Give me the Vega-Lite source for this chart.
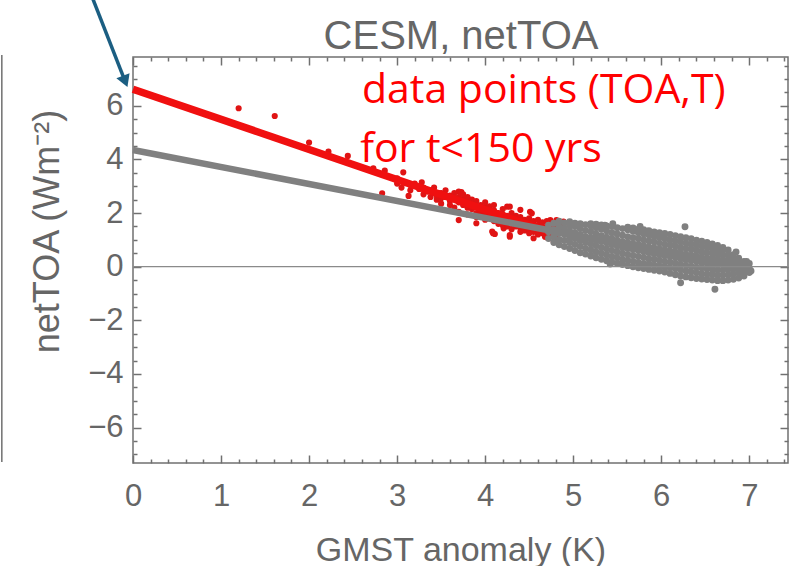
{
  "$schema": "https://vega.github.io/schema/vega-lite/v6.json",
  "width": 655,
  "height": 406,
  "autosize": "none",
  "padding": {"left": 133, "top": 57, "right": 14, "bottom": 103},
  "background": "white",
  "config": {
    "view": {"stroke": "#707070", "strokeWidth": 1.5},
    "axis": {"grid": false, "domain": false, "tickColor": "#707070", "tickWidth": 1.5, "labelFont": "Liberation Sans", "titleFont": "Liberation Sans", "labelColor": "#666666", "titleColor": "#666666", "titleFontWeight": "normal", "labelFlush": false, "labelOverlap": false}
  },
  "datasets": {
    "red": [
      {"x":1.2,"y":5.91},{"x":1.61,"y":5.62},{"x":2.0,"y":4.63},{"x":2.22,"y":4.29},{"x":2.44,"y":4.13},{"x":2.73,"y":3.67},{"x":2.86,"y":3.58},{"x":2.83,"y":2.74},{"x":3.07,"y":3.52},{"x":3.28,"y":3.15},{"x":3.13,"y":2.64},{"x":3.35,"y":2.8},{"x":3.47,"y":2.74},{"x":3.7,"y":2.8},{"x":3.73,"y":2.78},{"x":3.83,"y":2.49},{"x":4.25,"y":2.24},{"x":4.4,"y":2.12},{"x":4.51,"y":2.05},{"x":4.53,"y":1.99},{"x":4.81,"y":1.74},{"x":4.89,"y":1.68},{"x":4.28,"y":2.24},{"x":4.63,"y":1.62},{"x":4.74,"y":1.74},{"x":4.09,"y":1.25},{"x":4.28,"y":1.12},{"x":4.78,"y":0.93},{"x":4.55,"y":1.06},{"x":4.68,"y":1.12},{"x":3.7,"y":1.74},{"x":3.9,"y":1.62},{"x":4.08,"y":1.31},{"x":4.11,"y":1.22},{"x":4.21,"y":1.43},{"x":4.28,"y":1.18},
      {"x":3.0,"y":3.1},{"x":3.0,"y":3.3},{"x":3.05,"y":2.95},{"x":3.15,"y":3.05},{"x":3.15,"y":2.85},{"x":3.2,"y":3.1},{"x":3.25,"y":2.9},{"x":3.3,"y":2.95},{"x":3.3,"y":2.7},{"x":3.38,"y":2.85},{"x":3.38,"y":2.6},{"x":3.42,"y":2.95},{"x":3.45,"y":2.65},{"x":3.45,"y":2.5},{"x":3.5,"y":2.75},{"x":3.5,"y":2.55},{"x":3.5,"y":2.35},{"x":3.55,"y":2.85},{"x":3.55,"y":2.6},{"x":3.6,"y":2.45},{"x":3.6,"y":2.65},{"x":3.6,"y":2.3},{"x":3.65,"y":2.55},{"x":3.65,"y":2.75},{"x":3.65,"y":2.2},{"x":3.7,"y":2.4},{"x":3.7,"y":2.6},{"x":3.7,"y":2.05},{"x":3.75,"y":2.5},{"x":3.75,"y":2.3},{"x":3.75,"y":2.7},{"x":3.8,"y":2.2},{"x":3.8,"y":2.4},{"x":3.8,"y":2.6},{"x":3.8,"y":1.95},{"x":3.85,"y":2.35},{"x":3.85,"y":2.15},{"x":3.85,"y":2.5},{"x":3.9,"y":2.0},{"x":3.9,"y":2.25},{"x":3.9,"y":2.45},{"x":3.9,"y":1.85},{"x":3.95,"y":2.1},{"x":3.95,"y":2.3},{"x":3.95,"y":1.95},{"x":4.0,"y":2.2},{"x":4.0,"y":1.95},{"x":4.0,"y":2.4},{"x":4.0,"y":1.75},{"x":4.05,"y":2.05},{"x":4.05,"y":1.85},{"x":4.05,"y":2.25},{"x":4.1,"y":1.9},{"x":4.1,"y":2.1},{"x":4.1,"y":1.7},{"x":4.1,"y":2.3},{"x":4.15,"y":1.8},{"x":4.15,"y":2.0},{"x":4.15,"y":1.6},{"x":4.2,"y":1.95},{"x":4.2,"y":1.75},{"x":4.2,"y":2.15},{"x":4.2,"y":1.55},{"x":4.25,"y":1.7},{"x":4.25,"y":1.9},{"x":4.25,"y":1.5},{"x":4.3,"y":1.6},{"x":4.3,"y":1.8},{"x":4.3,"y":2.0},{"x":4.3,"y":1.4},{"x":4.35,"y":1.7},{"x":4.35,"y":1.5},{"x":4.35,"y":1.9},{"x":4.4,"y":1.45},{"x":4.4,"y":1.65},{"x":4.4,"y":1.85},{"x":4.4,"y":1.3},{"x":4.45,"y":1.55},{"x":4.45,"y":1.75},{"x":4.45,"y":1.35},{"x":4.5,"y":1.4},{"x":4.5,"y":1.6},{"x":4.5,"y":1.8},{"x":4.5,"y":1.25},{"x":4.55,"y":1.5},{"x":4.55,"y":1.3},{"x":4.55,"y":1.7},{"x":4.6,"y":1.35},{"x":4.6,"y":1.55},{"x":4.6,"y":1.2},{"x":4.6,"y":1.75},{"x":4.65,"y":1.45},{"x":4.65,"y":1.25},{"x":4.65,"y":1.65},{"x":4.7,"y":1.3},{"x":4.7,"y":1.5},{"x":4.7,"y":1.1},{"x":4.7,"y":1.7},{"x":4.75,"y":1.4},{"x":4.75,"y":1.2},{"x":4.8,"y":1.3},{"x":4.8,"y":1.5},{"x":4.8,"y":1.1},{"x":4.85,"y":1.35},{"x":4.85,"y":1.55},{"x":4.9,"y":1.25},{"x":4.9,"y":1.45}
    ],
    "gray": [
      {"x":4.72,"y":1.05},{"x":4.72,"y":1.3},{"x":4.72,"y":1.55},
      {"x":4.78,"y":0.9},{"x":4.78,"y":1.12},{"x":4.78,"y":1.38},{"x":4.78,"y":1.62},
      {"x":4.84,"y":0.82},{"x":4.84,"y":1.02},{"x":4.84,"y":1.25},{"x":4.84,"y":1.48},{"x":4.84,"y":1.7},
      {"x":4.9,"y":0.75},{"x":4.9,"y":0.98},{"x":4.9,"y":1.2},{"x":4.9,"y":1.42},{"x":4.9,"y":1.63},
      {"x":4.96,"y":0.68},{"x":4.96,"y":0.9},{"x":4.96,"y":1.1},{"x":4.96,"y":1.33},{"x":4.96,"y":1.55},{"x":4.96,"y":1.68},
      {"x":5.02,"y":0.6},{"x":5.02,"y":0.83},{"x":5.02,"y":1.05},{"x":5.02,"y":1.27},{"x":5.02,"y":1.5},{"x":5.02,"y":1.62},
      {"x":5.08,"y":0.52},{"x":5.08,"y":0.75},{"x":5.08,"y":0.97},{"x":5.08,"y":1.2},{"x":5.08,"y":1.42},{"x":5.08,"y":1.6},
      {"x":5.14,"y":0.47},{"x":5.14,"y":0.68},{"x":5.14,"y":0.9},{"x":5.14,"y":1.12},{"x":5.14,"y":1.35},{"x":5.14,"y":1.57},
      {"x":5.2,"y":0.4},{"x":5.2,"y":0.62},{"x":5.2,"y":0.85},{"x":5.2,"y":1.07},{"x":5.2,"y":1.3},{"x":5.2,"y":1.52},{"x":5.2,"y":1.6},
      {"x":5.26,"y":0.33},{"x":5.26,"y":0.55},{"x":5.26,"y":0.78},{"x":5.26,"y":1.0},{"x":5.26,"y":1.22},{"x":5.26,"y":1.45},{"x":5.26,"y":1.58},
      {"x":5.32,"y":0.28},{"x":5.32,"y":0.5},{"x":5.32,"y":0.72},{"x":5.32,"y":0.94},{"x":5.32,"y":1.16},{"x":5.32,"y":1.4},{"x":5.32,"y":1.56},
      {"x":5.38,"y":0.22},{"x":5.38,"y":0.44},{"x":5.38,"y":0.66},{"x":5.38,"y":0.88},{"x":5.38,"y":1.1},{"x":5.38,"y":1.33},{"x":5.38,"y":1.52},
      {"x":5.44,"y":0.17},{"x":5.44,"y":0.38},{"x":5.44,"y":0.6},{"x":5.44,"y":0.82},{"x":5.44,"y":1.04},{"x":5.44,"y":1.27},{"x":5.44,"y":1.5},
      {"x":5.5,"y":0.12},{"x":5.5,"y":0.33},{"x":5.5,"y":0.55},{"x":5.5,"y":0.77},{"x":5.5,"y":0.99},{"x":5.5,"y":1.22},{"x":5.5,"y":1.45},
      {"x":5.56,"y":0.08},{"x":5.56,"y":0.28},{"x":5.56,"y":0.5},{"x":5.56,"y":0.72},{"x":5.56,"y":0.94},{"x":5.56,"y":1.17},{"x":5.56,"y":1.42},
      {"x":5.62,"y":0.04},{"x":5.62,"y":0.24},{"x":5.62,"y":0.46},{"x":5.62,"y":0.68},{"x":5.62,"y":0.9},{"x":5.62,"y":1.12},{"x":5.62,"y":1.38},{"x":5.62,"y":1.47},
      {"x":5.68,"y":0.0},{"x":5.68,"y":0.2},{"x":5.68,"y":0.42},{"x":5.68,"y":0.64},{"x":5.68,"y":0.86},{"x":5.68,"y":1.08},{"x":5.68,"y":1.32},{"x":5.68,"y":1.44},
      {"x":5.74,"y":-0.04},{"x":5.74,"y":0.16},{"x":5.74,"y":0.38},{"x":5.74,"y":0.6},{"x":5.74,"y":0.82},{"x":5.74,"y":1.04},{"x":5.74,"y":1.27},{"x":5.74,"y":1.4},
      {"x":5.8,"y":-0.07},{"x":5.8,"y":0.12},{"x":5.8,"y":0.34},{"x":5.8,"y":0.56},{"x":5.8,"y":0.78},{"x":5.8,"y":1.0},{"x":5.8,"y":1.22},{"x":5.8,"y":1.38},
      {"x":5.86,"y":-0.1},{"x":5.86,"y":0.1},{"x":5.86,"y":0.3},{"x":5.86,"y":0.52},{"x":5.86,"y":0.74},{"x":5.86,"y":0.96},{"x":5.86,"y":1.18},{"x":5.86,"y":1.34},
      {"x":5.92,"y":-0.13},{"x":5.92,"y":0.06},{"x":5.92,"y":0.27},{"x":5.92,"y":0.48},{"x":5.92,"y":0.7},{"x":5.92,"y":0.92},{"x":5.92,"y":1.13},{"x":5.92,"y":1.3},
      {"x":5.98,"y":-0.16},{"x":5.98,"y":0.03},{"x":5.98,"y":0.24},{"x":5.98,"y":0.45},{"x":5.98,"y":0.66},{"x":5.98,"y":0.88},{"x":5.98,"y":1.09},{"x":5.98,"y":1.27},
      {"x":6.04,"y":-0.2},{"x":6.04,"y":0.0},{"x":6.04,"y":0.2},{"x":6.04,"y":0.41},{"x":6.04,"y":0.62},{"x":6.04,"y":0.84},{"x":6.04,"y":1.05},{"x":6.04,"y":1.24},
      {"x":6.1,"y":-0.25},{"x":6.1,"y":-0.04},{"x":6.1,"y":0.17},{"x":6.1,"y":0.38},{"x":6.1,"y":0.59},{"x":6.1,"y":0.8},{"x":6.1,"y":1.0},{"x":6.1,"y":1.2},
      {"x":6.16,"y":-0.3},{"x":6.16,"y":-0.08},{"x":6.16,"y":0.13},{"x":6.16,"y":0.34},{"x":6.16,"y":0.55},{"x":6.16,"y":0.76},{"x":6.16,"y":0.96},{"x":6.16,"y":1.16},
      {"x":6.22,"y":-0.35},{"x":6.22,"y":-0.12},{"x":6.22,"y":0.09},{"x":6.22,"y":0.3},{"x":6.22,"y":0.51},{"x":6.22,"y":0.72},{"x":6.22,"y":0.92},{"x":6.22,"y":1.12},
      {"x":6.28,"y":-0.38},{"x":6.28,"y":-0.16},{"x":6.28,"y":0.05},{"x":6.28,"y":0.26},{"x":6.28,"y":0.47},{"x":6.28,"y":0.68},{"x":6.28,"y":0.88},{"x":6.28,"y":1.08},
      {"x":6.34,"y":-0.41},{"x":6.34,"y":-0.2},{"x":6.34,"y":0.01},{"x":6.34,"y":0.22},{"x":6.34,"y":0.43},{"x":6.34,"y":0.64},{"x":6.34,"y":0.84},{"x":6.34,"y":1.04},
      {"x":6.4,"y":-0.44},{"x":6.4,"y":-0.23},{"x":6.4,"y":-0.02},{"x":6.4,"y":0.19},{"x":6.4,"y":0.4},{"x":6.4,"y":0.6},{"x":6.4,"y":0.8},{"x":6.4,"y":0.99},
      {"x":6.46,"y":-0.46},{"x":6.46,"y":-0.26},{"x":6.46,"y":-0.05},{"x":6.46,"y":0.16},{"x":6.46,"y":0.36},{"x":6.46,"y":0.56},{"x":6.46,"y":0.76},{"x":6.46,"y":0.95},
      {"x":6.52,"y":-0.48},{"x":6.52,"y":-0.28},{"x":6.52,"y":-0.08},{"x":6.52,"y":0.12},{"x":6.52,"y":0.32},{"x":6.52,"y":0.52},{"x":6.52,"y":0.72},{"x":6.52,"y":0.9},
      {"x":6.58,"y":-0.5},{"x":6.58,"y":-0.3},{"x":6.58,"y":-0.1},{"x":6.58,"y":0.1},{"x":6.58,"y":0.3},{"x":6.58,"y":0.49},{"x":6.58,"y":0.68},{"x":6.58,"y":0.85},
      {"x":6.64,"y":-0.52},{"x":6.64,"y":-0.32},{"x":6.64,"y":-0.12},{"x":6.64,"y":0.08},{"x":6.64,"y":0.27},{"x":6.64,"y":0.46},{"x":6.64,"y":0.64},{"x":6.64,"y":0.79},
      {"x":6.7,"y":-0.52},{"x":6.7,"y":-0.32},{"x":6.7,"y":-0.12},{"x":6.7,"y":0.07},{"x":6.7,"y":0.25},{"x":6.7,"y":0.43},{"x":6.7,"y":0.6},{"x":6.7,"y":0.72},
      {"x":6.76,"y":-0.5},{"x":6.76,"y":-0.3},{"x":6.76,"y":-0.1},{"x":6.76,"y":0.08},{"x":6.76,"y":0.26},{"x":6.76,"y":0.44},{"x":6.76,"y":0.62},
      {"x":6.82,"y":-0.47},{"x":6.82,"y":-0.27},{"x":6.82,"y":-0.08},{"x":6.82,"y":0.1},{"x":6.82,"y":0.28},{"x":6.82,"y":0.45},
      {"x":6.88,"y":-0.42},{"x":6.88,"y":-0.22},{"x":6.88,"y":-0.04},{"x":6.88,"y":0.14},{"x":6.88,"y":0.32},
      {"x":6.94,"y":-0.35},{"x":6.94,"y":-0.16},{"x":6.94,"y":0.02},{"x":6.94,"y":0.2},
      {"x":7.0,"y":-0.22},{"x":7.0,"y":-0.04},{"x":7.0,"y":0.12},
      {"x":5.36,"y":1.55},{"x":5.45,"y":1.6},{"x":5.76,"y":1.5},{"x":5.84,"y":1.32},{"x":6.27,"y":1.49},{"x":5.42,"y":0.1},{"x":6.22,"y":-0.6},{"x":6.61,"y":-0.84},{"x":7.02,"y":-0.16},{"x":6.97,"y":0.2},{"x":6.85,"y":0.55}
    ],
    "redline": [{"x":0,"y":6.62},{"x":4.83,"y":1.19}],
    "grayline": [{"x":0,"y":4.35},{"x":6.9,"y":-0.02}],
    "zero": [{"y":0}],
    "labels": [{"x":2.6,"y":6.11,"t":"data points (TOA,T)"},{"x":2.58,"y":3.92,"t":"for t<150 yrs"}],
    "title": [{"x":3.726,"y":8.12,"t":"CESM, netTOA"}],
    "arrow": [{"x":-0.46,"y":10.02,"x2":-0.097,"y2":6.98}],
    "head": [{"x":-0.097,"y":6.98}],
    "edge": [{"x":-1.49,"y":7.89,"y2":-7.28}]
  },
  "resolve": {"scale": {"x": "independent", "y": "independent"}, "axis": {"x": "independent", "y": "independent"}},
  "layer": [
    {
      "data": {"name": "red"},
      "mark": {"type": "circle", "size": 38, "color": "#e01414", "opacity": 1},
      "encoding": {
        "x": {"field": "x", "type": "quantitative", "scale": {"domain": [0, 7.44], "nice": false, "zero": false},
          "axis": {"orient": "bottom", "values": [0,1,2,3,4,5,6,7], "tickSize": -8, "labelFontSize": 31, "labelPadding": 26, "title": "GMST anomaly (K)", "titleFontSize": 34, "titleBaseline": "alphabetic", "titleY": 97}},
        "y": {"field": "y", "type": "quantitative", "scale": {"domain": [-7.32, 7.82], "nice": false, "zero": false},
          "axis": {"orient": "left", "values": [-6,-4,-2,0,2,4,6], "tickSize": -8, "labelFontSize": 31, "labelPadding": 18, "title": "netTOA (Wm⁻²)", "titleFontSize": 36, "titleAngle": 270, "titleBaseline": "alphabetic", "titleAlign": "center", "titleX": -75, "titleY": 174}}
      }
    },
    {
      "data": {"name": "redline"},
      "mark": {"type": "line", "color": "#f01010", "strokeWidth": 7.5},
      "encoding": {
        "x": {"field": "x", "type": "quantitative", "scale": {"domain": [0, 7.44], "nice": false, "zero": false},
          "axis": {"orient": "bottom", "values": [0.2,0.4,0.6,0.8,1.2,1.4,1.6,1.8,2.2,2.4,2.6,2.8,3.2,3.4,3.6,3.8,4.2,4.4,4.6,4.8,5.2,5.4,5.6,5.8,6.2,6.4,6.6,6.8,7.2,7.4], "tickSize": -4, "labels": false, "title": null}},
        "y": {"field": "y", "type": "quantitative", "scale": {"domain": [-7.32, 7.82], "nice": false, "zero": false},
          "axis": {"orient": "left", "values": [-7,-6.5,-5.5,-5,-4.5,-3.5,-3,-2.5,-1.5,-1,-0.5,0.5,1,1.5,2.5,3,3.5,4.5,5,5.5,6.5,7,7.5], "tickSize": -4, "labels": false, "title": null}}
      }
    },
    {
      "data": {"name": "grayline"},
      "mark": {"type": "line", "color": "#808080", "strokeWidth": 6.5},
      "encoding": {
        "x": {"field": "x", "type": "quantitative", "scale": {"domain": [0, 7.44], "nice": false, "zero": false},
          "axis": {"orient": "top", "values": [0,1,2,3,4,5,6,7], "tickSize": -8, "labels": false, "title": null}},
        "y": {"field": "y", "type": "quantitative", "scale": {"domain": [-7.32, 7.82], "nice": false, "zero": false},
          "axis": {"orient": "right", "values": [-6,-4,-2,0,2,4,6], "tickSize": -8, "labels": false, "title": null}}
      }
    },
    {
      "data": {"name": "gray"},
      "mark": {"type": "circle", "size": 48, "color": "#808080", "opacity": 1},
      "encoding": {
        "x": {"field": "x", "type": "quantitative", "scale": {"domain": [0, 7.44], "nice": false, "zero": false},
          "axis": {"orient": "top", "values": [0.2,0.4,0.6,0.8,1.2,1.4,1.6,1.8,2.2,2.4,2.6,2.8,3.2,3.4,3.6,3.8,4.2,4.4,4.6,4.8,5.2,5.4,5.6,5.8,6.2,6.4,6.6,6.8,7.2,7.4], "tickSize": -4, "labels": false, "title": null}},
        "y": {"field": "y", "type": "quantitative", "scale": {"domain": [-7.32, 7.82], "nice": false, "zero": false},
          "axis": {"orient": "right", "values": [-7,-6.5,-5.5,-5,-4.5,-3.5,-3,-2.5,-1.5,-1,-0.5,0.5,1,1.5,2.5,3,3.5,4.5,5,5.5,6.5,7,7.5], "tickSize": -4, "labels": false, "title": null}}
      }
    },
    {
      "data": {"name": "zero"},
      "mark": {"type": "rule", "color": "#8a8a8a", "strokeWidth": 1.3},
      "encoding": {
        "y": {"field": "y", "type": "quantitative", "scale": {"domain": [-7.32, 7.82], "nice": false, "zero": false}, "axis": null}
      }
    },
    {
      "data": {"name": "labels"},
      "mark": {"type": "text", "font": "Open Sans", "fontSize": 41, "color": "#ff0000", "align": "left", "baseline": "alphabetic"},
      "encoding": {
        "x": {"field": "x", "type": "quantitative", "scale": {"domain": [0, 7.44], "nice": false, "zero": false}, "axis": null},
        "y": {"field": "y", "type": "quantitative", "scale": {"domain": [-7.32, 7.82], "nice": false, "zero": false}, "axis": null},
        "text": {"field": "t"}
      }
    },
    {
      "data": {"name": "title"},
      "mark": {"type": "text", "font": "Liberation Sans", "fontSize": 40, "color": "#666666", "align": "center", "baseline": "alphabetic"},
      "encoding": {
        "x": {"field": "x", "type": "quantitative", "scale": {"domain": [0, 7.44], "nice": false, "zero": false}, "axis": null},
        "y": {"field": "y", "type": "quantitative", "scale": {"domain": [-7.32, 7.82], "nice": false, "zero": false}, "axis": null},
        "text": {"field": "t"}
      }
    },
    {
      "data": {"name": "arrow"},
      "mark": {"type": "rule", "color": "#1b5e82", "strokeWidth": 3.5},
      "encoding": {
        "x": {"field": "x", "type": "quantitative", "scale": {"domain": [0, 7.44], "nice": false, "zero": false}, "axis": null},
        "y": {"field": "y", "type": "quantitative", "scale": {"domain": [-7.32, 7.82], "nice": false, "zero": false}, "axis": null},
        "x2": {"field": "x2"},
        "y2": {"field": "y2"}
      }
    },
    {
      "data": {"name": "head"},
      "mark": {"type": "point", "shape": "triangle", "filled": true, "size": 200, "angle": 158.5, "color": "#1b5e82", "opacity": 1},
      "encoding": {
        "x": {"field": "x", "type": "quantitative", "scale": {"domain": [0, 7.44], "nice": false, "zero": false}, "axis": null},
        "y": {"field": "y", "type": "quantitative", "scale": {"domain": [-7.32, 7.82], "nice": false, "zero": false}, "axis": null}
      }
    },
    {
      "data": {"name": "edge"},
      "mark": {"type": "rule", "color": "#707070", "strokeWidth": 1.5},
      "encoding": {
        "x": {"field": "x", "type": "quantitative", "scale": {"domain": [0, 7.44], "nice": false, "zero": false}, "axis": null},
        "y": {"field": "y", "type": "quantitative", "scale": {"domain": [-7.32, 7.82], "nice": false, "zero": false}, "axis": null},
        "y2": {"field": "y2"}
      }
    }
  ]
}
